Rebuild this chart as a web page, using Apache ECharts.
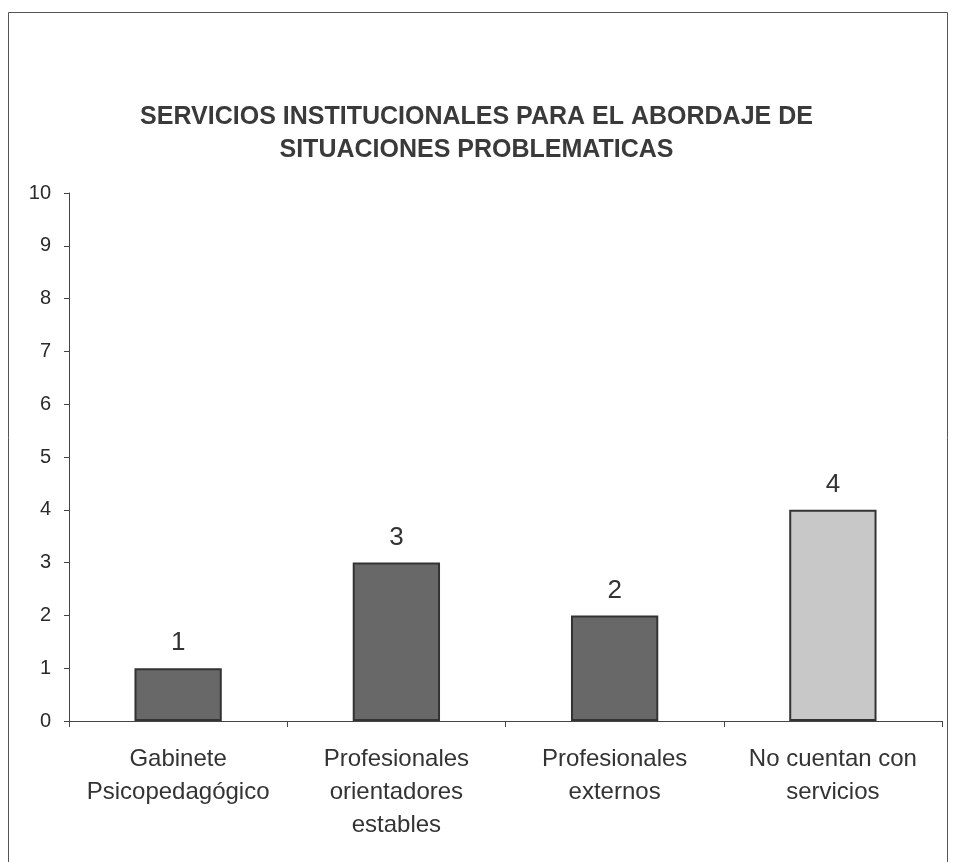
<!DOCTYPE html>
<html>
<head>
<meta charset="utf-8">
<script src="https://cdn.jsdelivr.net/npm/echarts@6/dist/echarts.min.js"></script>
<style>
html,body{margin:0;padding:0;background:#fff;}
#c{width:953px;height:862px;}
</style>
</head>
<body>
<div id="c"></div>
<script>
const titleLines = ["SERVICIOS INSTITUCIONALES PARA EL ABORDAJE DE", "SITUACIONES PROBLEMATICAS"];
const categories = ["Gabinete\nPsicopedagógico", "Profesionales\norientadores\nestables", "Profesionales\nexternos", "No cuentan con\nservicios"];
const values = [1, 3, 2, 4];
const barColors = ["#686868", "#686868", "#686868", "#c8c8c8"];
const yTicks = [0, 1, 2, 3, 4, 5, 6, 7, 8, 9, 10];

const chart = echarts.init(document.getElementById('c'), null, {renderer: 'canvas'});
chart.setOption({
  backgroundColor: '#ffffff',
  animation: false,
  title: {
    text: titleLines.join('\n'),
    left: 'center',
    top: 96,
    textStyle: {
      fontFamily: 'Liberation Sans, Arial, sans-serif',
      fontSize: 25,
      fontWeight: 'bold',
      color: '#3a3a3a',
      lineHeight: 33
    }
  },
  graphic: [{
    type: 'rect',
    shape: {x: 8.5, y: 12.5, width: 939, height: 900},
    style: {fill: 'none', stroke: '#555', lineWidth: 1},
    silent: true
  }],
  grid: {left: 69, right: 11, top: 193, bottom: 141, containLabel: false},
  xAxis: {
    type: 'category',
    data: categories,
    boundaryGap: true,
    axisLine: {show: true, lineStyle: {color: '#444', width: 1}},
    axisTick: {show: true, length: 6, inside: false, alignWithLabel: false, lineStyle: {color: '#444'}},
    axisLabel: {
      fontFamily: 'Liberation Sans, Arial, sans-serif',
      fontSize: 24,
      color: '#333',
      lineHeight: 33,
      margin: 22,
      interval: 0
    }
  },
  yAxis: {
    type: 'value',
    min: 0,
    max: 10,
    interval: 1,
    splitLine: {show: false},
    axisLine: {show: true, lineStyle: {color: '#444', width: 1}},
    axisTick: {show: true, length: 5, lineStyle: {color: '#444'}},
    axisLabel: {
      fontFamily: 'Liberation Sans, Arial, sans-serif',
      fontSize: 20,
      color: '#2a2a2a',
      margin: 18,
      formatter: v => yTicks.includes(v) ? String(v) : ''
    }
  },
  series: [{
    type: 'bar',
    data: values.map((v, i) => ({value: v, itemStyle: {color: barColors[i]}})),
    barWidth: '40%',
    itemStyle: {borderColor: '#333', borderWidth: 2},
    label: {
      show: true,
      position: 'top',
      distance: 12,
      fontFamily: 'Liberation Sans, Arial, sans-serif',
      fontSize: 26,
      color: '#333'
    }
  }]
});
</script>
</body>
</html>
